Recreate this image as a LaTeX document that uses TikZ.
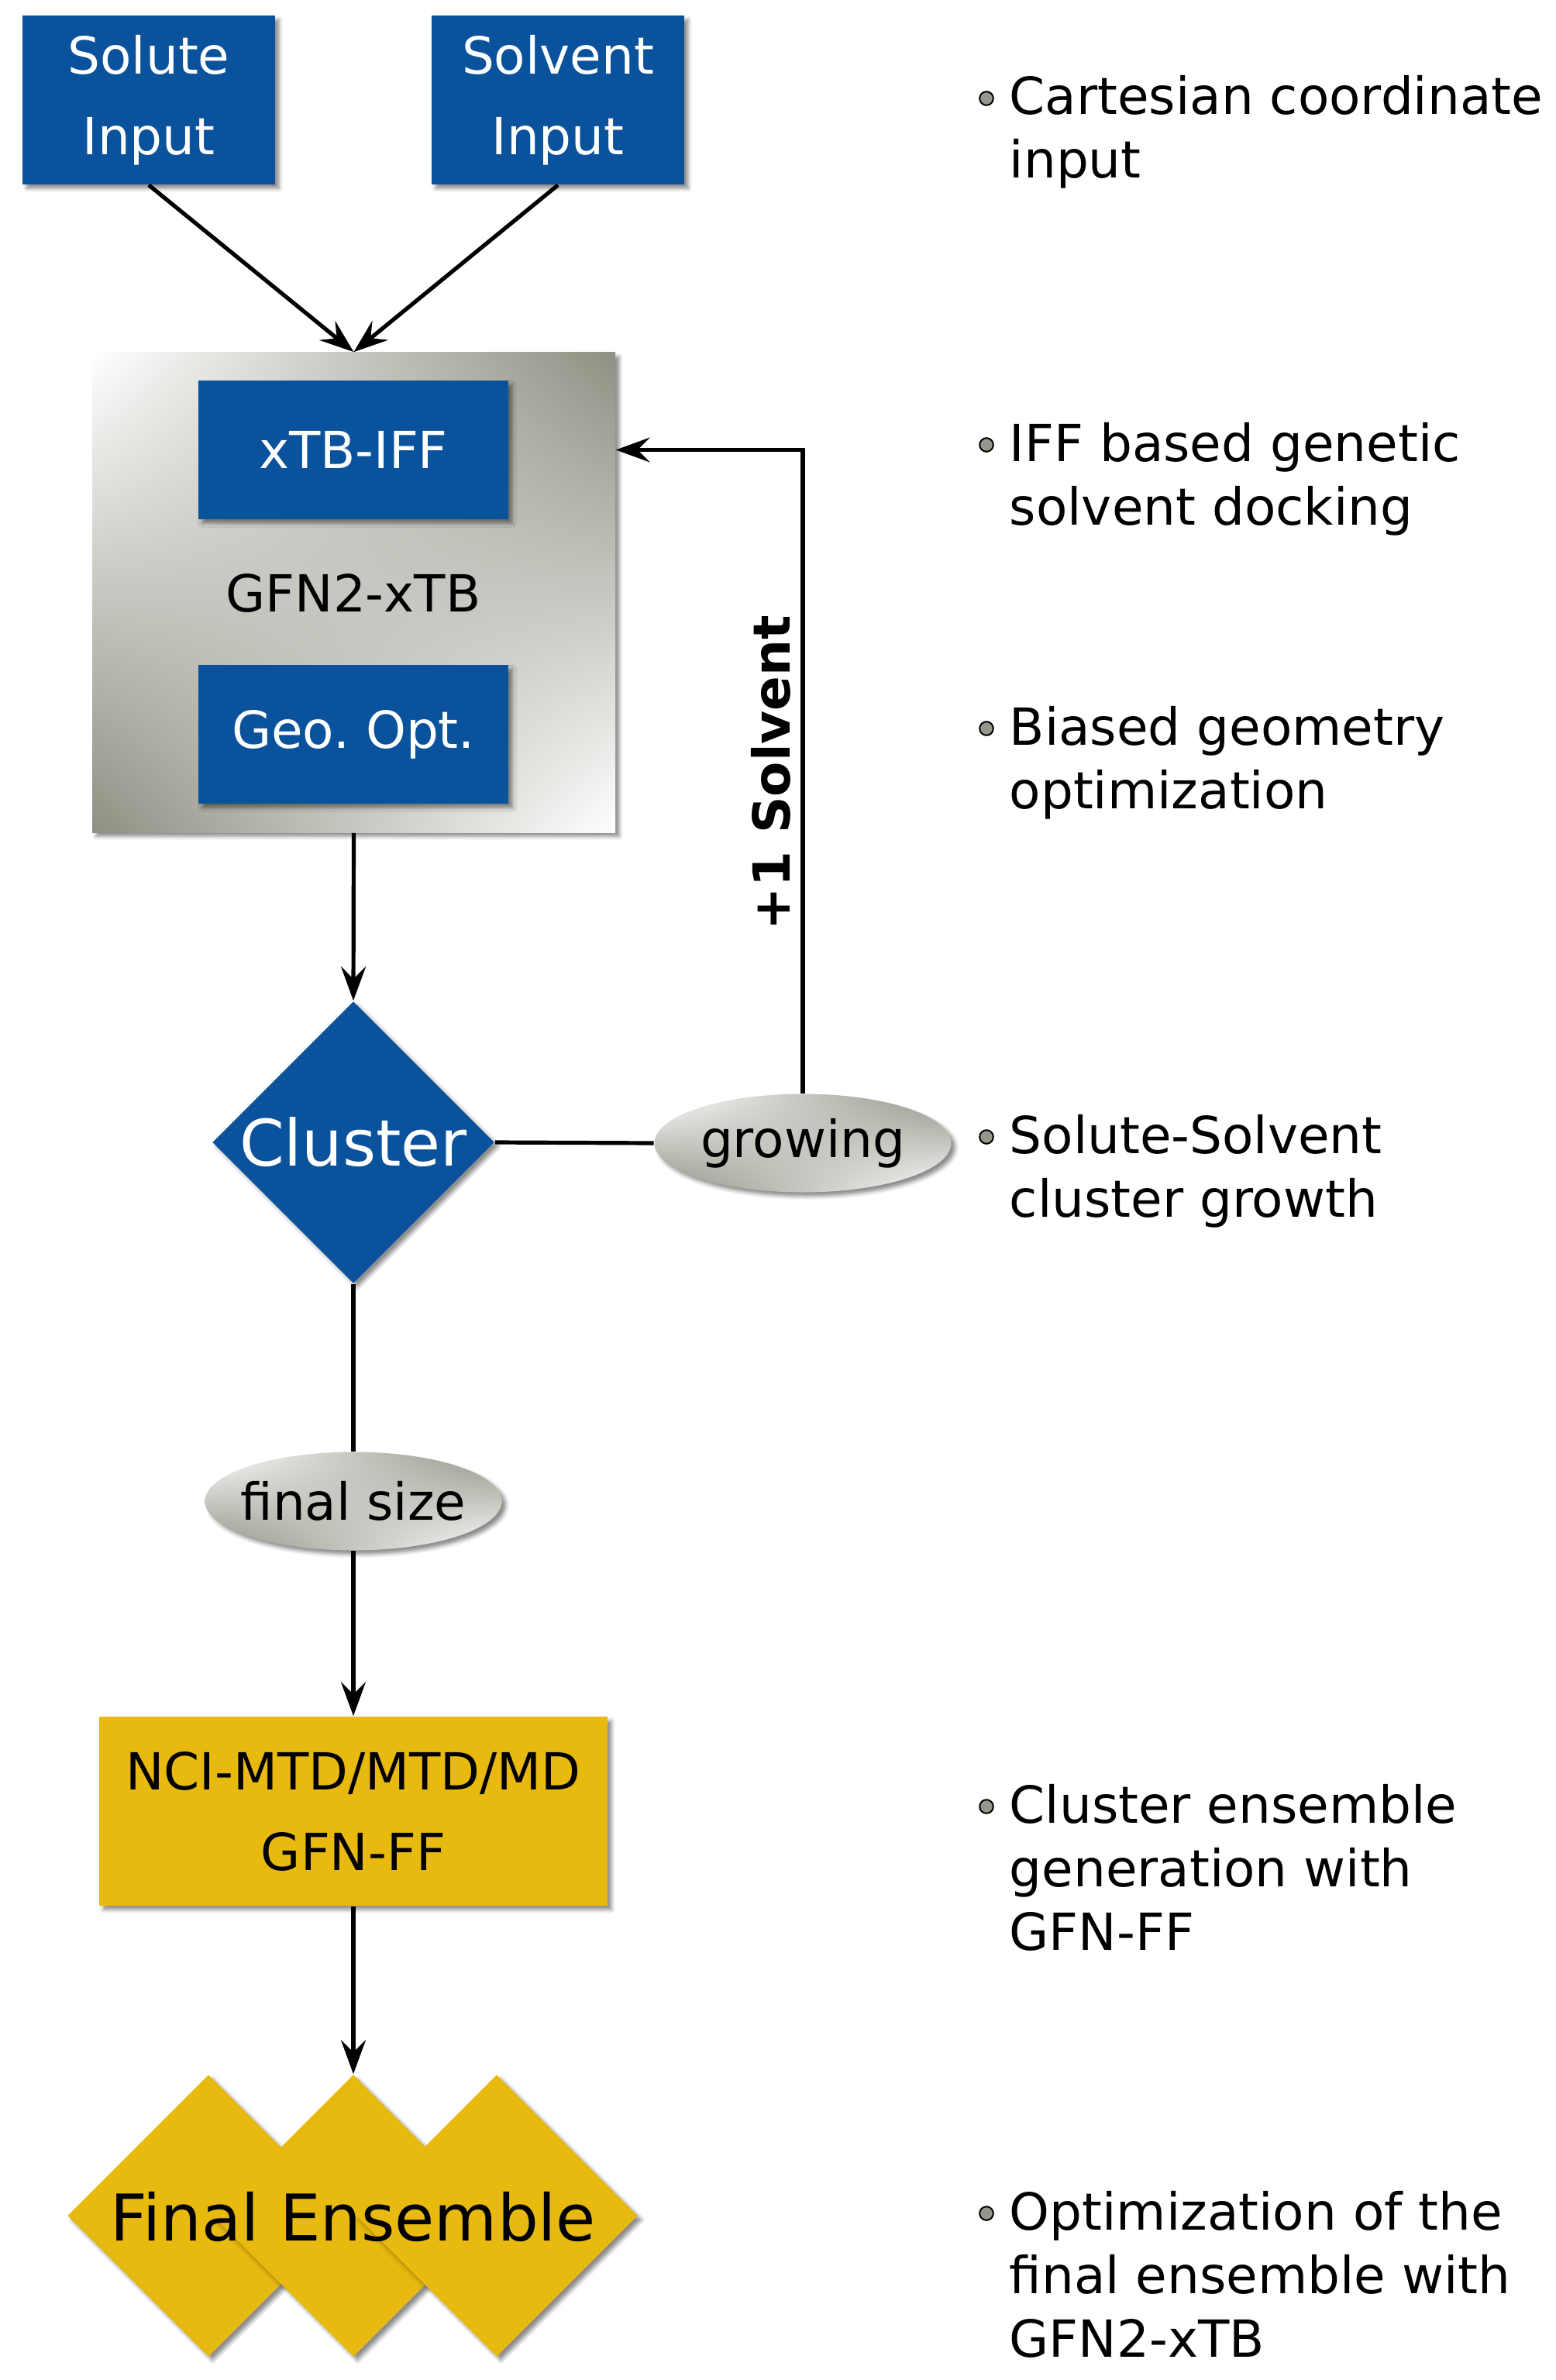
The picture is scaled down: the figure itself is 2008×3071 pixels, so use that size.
\documentclass[tikz,border=0pt]{standalone}
\usepackage{fontspec}
\setmainfont{DejaVu Sans}
\usetikzlibrary{shapes.geometric,arrows.meta,shadows.blur,shadings}
\definecolor{boxblue}{RGB}{10,82,155}
\definecolor{boxgold}{RGB}{232,185,14}
\definecolor{shadegray}{RGB}{143,143,131}
\definecolor{dotgray}{RGB}{150,150,140}
\tikzset{
	arr/.style={line width=1.3pt,-{Stealth[length=11pt,width=8pt,inset=4pt]}},
	conn/.style={line width=1.3pt},
	shadowed/.style={blur shadow={shadow xshift=1.3pt,shadow yshift=-1.3pt,shadow blur radius=1.2pt,shadow opacity=45}},
	grayfill/.style={shading=bilinear interpolation,upper left=white,upper right=shadegray,lower left=shadegray,lower right=white},
	bluebox/.style={rectangle,fill=boxblue,text=white,align=center,inner sep=0pt,shadowed},
	goldbox/.style={rectangle,fill=boxgold,align=center,inner sep=0pt,shadowed},
	simbox/.style={rectangle,grayfill,inner sep=0pt,shadowed},
	choice/.style={ellipse,grayfill,inner xsep=-3pt,inner ysep=0pt,minimum width=95.75pt,minimum height=31.75pt,shadowed},
	ensdiamond/.style={diamond,fill=boxgold,inner sep=0pt,minimum width=91pt,minimum height=91pt,shadowed},
	note/.style={anchor=base west,align=left,inner sep=0pt,font=\fontsize{16.5}{20.5}\selectfont},
	dot/.style={circle,fill=dotgray,draw=black,line width=.5pt,inner sep=0pt,minimum size=4.4pt}
}
\frenchspacing
\begin{document}
\begin{tikzpicture}[x=.25pt,y=-.25pt,every node/.append style={font=\fontsize{16.5}{26}\selectfont}]
	\useasboundingbox (0,0) rectangle (2008,3071);

	\node[bluebox,minimum width=81.5pt,minimum height=54.5pt] (solute) at (192,129) {Solute\\Input};
	\node[bluebox,minimum width=81.5pt,minimum height=54.5pt] (solvent) at (720,129) {Solvent\\Input};

	\node[simbox,minimum width=168.75pt,minimum height=154.75pt] (sim) at (456.5,764.5) {};
	\node[bluebox,minimum width=100pt,minimum height=44.75pt] (xtb) at (456,580.5) {xTB-IFF};
	\node (gfn) at (456,765) {GFN2-xTB};
	\node[bluebox,minimum width=100pt,minimum height=44.75pt] (geo) at (456,947.5) {Geo. Opt.};

	\node[diamond,fill=boxblue,text=white,inner sep=0pt,minimum width=91pt,minimum height=91pt,shadowed,font=\fontsize{20.7}{25}\selectfont] (cluster) at (456,1474) {Cluster};
	\node[choice] (growing) at (1036,1475) {growing};
	\node[choice] (final) at (456,1937) {final size};

	\node[goldbox,minimum width=164pt,minimum height=61pt] (nci) at (456,2337) {NCI-MTD/MTD/MD\\GFN-FF};

	\node[ensdiamond] (ensl) at (269,2859) {};
	\node[ensdiamond] (ensm) at (456,2859) {};
	\node[ensdiamond] (ensr) at (641,2859) {};
	\node[font=\fontsize{20.8}{25}\selectfont] (ens) at (456,2860) {Final Ensemble};

	\draw[arr] (solute.south) -- (sim.north);
	\draw[arr] (solvent.south) -- (sim.north);
	\draw[arr] (sim.south) -- (cluster.north);
	\draw[conn] (cluster.east) -- (growing.west);
	\draw[arr] (growing.north) |- (sim.east |- xtb);
	\node[rotate=90,font=\bfseries\fontsize{16.5}{20}\selectfont] (plus) at (995,997) {+1 Solvent};
	\draw[conn] (cluster.south) -- (final.north);
	\draw[arr] (final.south) -- (nci.north);
	\draw[arr] (nci.south) -- (ensm.north);

	\node[dot] (d1) at (1273,127) {};
	\node[note] (n1) at (1302,230) {Cartesian coordinate\\input};
	\node[dot] (d2) at (1273,574) {};
	\node[note] (n2) at (1302,677) {IFF based genetic\\solvent docking};
	\node[dot] (d3) at (1273,940) {};
	\node[note] (n3) at (1302,1043) {Biased geometry\\optimization};
	\node[dot] (d4) at (1273,1467) {};
	\node[note] (n4) at (1302,1570) {Solute-Solvent\\cluster growth};
	\node[dot] (d5) at (1273,2331) {};
	\node[note] (n5) at (1302,2516) {Cluster ensemble\\generation with\\GFN-FF};
	\node[dot] (d6) at (1273,2856) {};
	\node[note] (n6) at (1302,3041) {Optimization of the\\final ensemble with\\GFN2-xTB};
\end{tikzpicture}
\end{document}
